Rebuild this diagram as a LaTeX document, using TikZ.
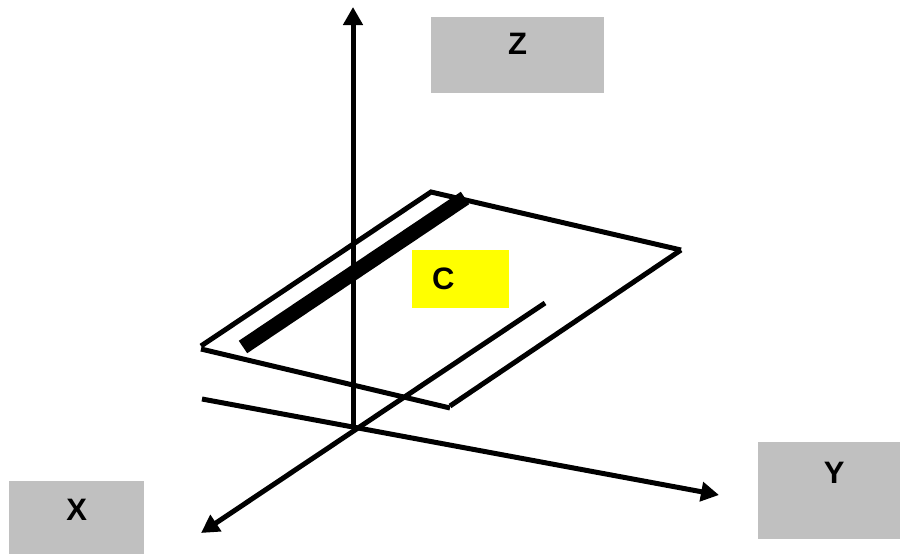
\documentclass[tikz,border=0pt]{standalone}
\usepackage{fontspec}
\setmainfont{Liberation Sans}
\usepackage{xcolor}
\usetikzlibrary{arrows.meta}
\definecolor{boxgray}{HTML}{C0C0C0}
\definecolor{boxyellow}{HTML}{FFFF00}
\tikzset{
  axislabel/.style={fill=boxgray, inner sep=0pt, font=\fontsize{31}{34}\selectfont\bfseries, align=center},
  planelabel/.style={fill=boxyellow, inner sep=0pt, font=\fontsize{31}{34}\selectfont\bfseries, align=left},
  axis/.style={line width=5pt, -{Triangle[length=18pt, width=19pt]}},
  edge/.style={line width=5pt},
  bar/.style={line width=15pt}
}
\begin{document}
\begin{tikzpicture}[x=1pt, y=-1pt]
  \useasboundingbox (0,0) rectangle (900,554);

  % axes
  \coordinate (origin) at (353,428);
  \coordinate (ztip) at (353,7);
  \coordinate (xtail) at (545,303);
  \coordinate (xtip) at (201,533);
  \coordinate (ytail) at (202,399);
  \coordinate (ytip) at (719,495);
  \draw[axis] (origin) -- (ztip);
  \draw[axis] (xtail) -- (xtip);
  \draw[axis] (ytail) -- (ytip);

  % plane
  \coordinate (pleft) at (201,346);
  \coordinate (ptop) at (431,192);
  \coordinate (pright) at (681,250);
  \coordinate (pbottom) at (450,406);
  \draw[edge] (pleft) -- (ptop) -- (pright);
  \draw[edge] (pright) -- (pbottom);
  \draw[edge] (201,349) -- (450,408);
  \coordinate (barlow) at (243,347);
  \coordinate (barhigh) at (465,198);
  \draw[bar] (barlow) -- (barhigh);

  % labels
  \node[axislabel, anchor=north west, text width=173pt, text height=37pt, text depth=39pt] (zlabel) at (431,17) {Z};
  \node[axislabel, anchor=north west, text width=135pt, text height=39pt, text depth=35pt] (xlabel) at (9,481) {X};
  \node[axislabel, anchor=north west, text width=142pt, text height=41pt, text depth=56pt] (ylabel) at (758,442) {\hspace*{10pt}Y};
  \node[planelabel, anchor=north west, inner xsep=20pt, text width=57pt, text height=39pt, text depth=19pt] (clabel) at (412,250) {C};
\end{tikzpicture}
\end{document}
